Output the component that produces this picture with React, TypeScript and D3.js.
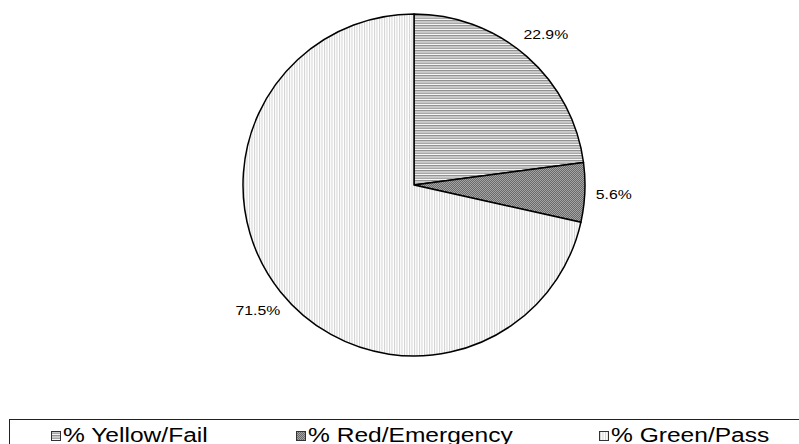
import React from "react";
import * as d3 from "d3";

const categories = ["% Yellow/Fail", "% Red/Emergency", "% Green/Pass"];
const values = [22.9, 5.6, 71.5];
const labels = ["22.9%", "5.6%", "71.5%"];

const W = 799;
const H = 444;
const cx = 414;
const cy = 185;
const R = 171;
const labelR = 200;
const legendIconX = [51, 296, 599];
const patternIds = ["pYellow", "pRed", "pGreen"];
const SX = 1.17;

export default function App() {
  const pie = d3.pie<number>().sort(null).value((d) => d);
  const arcs = pie(values);
  const arc = d3.arc<d3.PieArcDatum<number>>().innerRadius(0).outerRadius(R);
  const font = "'Liberation Sans', Arial, sans-serif";

  return (
    <svg width={W} height={H} style={{ position: "absolute", left: 0, top: 0, background: "#fff" }}>
      <defs>
        <pattern id="pYellow" patternUnits="userSpaceOnUse" width={4} height={2.5}>
          <rect width={4} height={2.5} fill="#fff" />
          <rect width={4} height={1.4} fill="#8f8f8f" />
        </pattern>
        <pattern id="pRed" patternUnits="userSpaceOnUse" width={2} height={2}>
          <rect width={2} height={2} fill="#a4a4a4" />
          <rect width={1} height={1} fill="#6a6a6a" />
          <rect x={1} y={1} width={1} height={1} fill="#6a6a6a" />
        </pattern>
        <pattern id="pGreen" patternUnits="userSpaceOnUse" width={2.5} height={4}>
          <rect width={2.5} height={4} fill="#fff" />
          <rect width={1} height={4} fill="#d2d2d2" />
        </pattern>
      </defs>
      <g transform={`translate(${cx},${cy})`}>
        {arcs.map((a, i) => (
          <path key={i} d={arc(a) || ""} fill={`url(#${patternIds[i]})`} stroke="#000" strokeWidth={1.5} strokeLinejoin="round" />
        ))}
        {arcs.map((a, i) => {
          const mid = (a.startAngle + a.endAngle) / 2;
          const x = Math.sin(mid) * labelR;
          const y = -Math.cos(mid) * labelR;
          return (
            <text
              key={i}
              transform={`translate(${x},${y}) scale(${SX},1)`}
              textAnchor="middle"
              dy="0.36em"
              fontFamily={font}
              fontSize={13.5}
              fill="#000"
            >
              {labels[i]}
            </text>
          );
        })}
      </g>
      <rect x={9.5} y={419.5} width={W + 20} height={60} fill="#fff" stroke="#222" strokeWidth={1} />
      {categories.map((c, i) => (
        <g key={c}>
          <rect x={legendIconX[i] + 0.5} y={431.5} width={9} height={9} fill={`url(#${patternIds[i]})`} stroke="#333" strokeWidth={1} />
          <text
            transform={`translate(${legendIconX[i] + 12},442) scale(${SX},1)`}
            fontFamily={font}
            fontSize={21}
            fill="#000"
          >
            {c}
          </text>
        </g>
      ))}
    </svg>
  );
}
